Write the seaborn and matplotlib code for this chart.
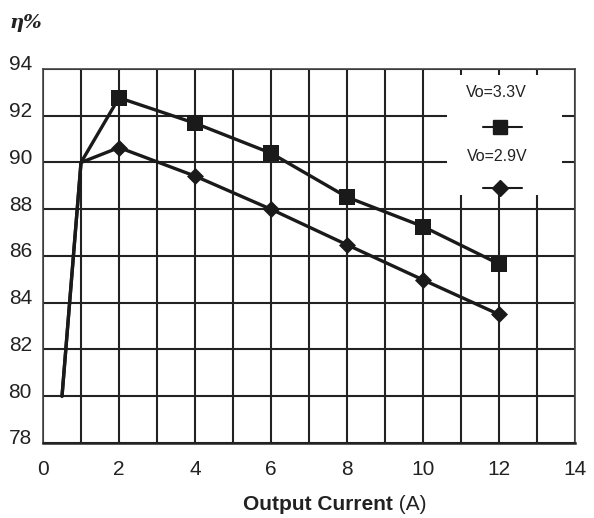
import matplotlib
matplotlib.use("Agg")
import matplotlib.pyplot as plt
import matplotlib.transforms as mtransforms
from matplotlib.lines import Line2D
from matplotlib.patches import Rectangle
import seaborn as sns
import pandas as pd

# ---- data ----
current = [0.5, 1, 2, 4, 6, 8, 10, 12]
eff_33 = [80.0, 90.0, 92.77, 91.68, 90.4, 88.52, 87.26, 85.66]
eff_29 = [80.0, 90.0, 90.64, 89.42, 88.0, 86.48, 84.98, 83.5]
series = ["Vo=3.3V", "Vo=2.9V"]
x_ticks = [0, 2, 4, 6, 8, 10, 12, 14]
y_ticks = [78, 80, 82, 84, 86, 88, 90, 92, 94]

df = pd.concat([
    pd.DataFrame({"I": current, "eff": eff_33, "Vo": series[0]}),
    pd.DataFrame({"I": current, "eff": eff_29, "Vo": series[1]}),
], ignore_index=True)
df_marks = df[df["I"] >= 2]

sns.set_theme(style="white")
plt.rcParams["font.family"] = ["Liberation Sans", "DejaVu Sans"]

fig = plt.figure(figsize=(5.94, 5.18), dpi=100)
ax = fig.add_axes([0.0724, 0.1448, 0.8956, 0.722])

dark = "#1a1a1a"
palette = {series[0]: dark, series[1]: dark}

sns.lineplot(data=df, x="I", y="eff", hue="Vo", palette=palette, sort=False,
             estimator=None, linewidth=2.4, legend=False, ax=ax, zorder=3)
sns.scatterplot(data=df_marks[df_marks["Vo"] == series[0]], x="I", y="eff",
                color=dark, marker="s", s=120, linewidth=0, legend=False, ax=ax, zorder=4)
sns.scatterplot(data=df_marks[df_marks["Vo"] == series[1]], x="I", y="eff",
                color=dark, marker="D", s=75, linewidth=0, legend=False, ax=ax, zorder=4)

ax.set_xlim(0, 14)
ax.set_ylim(78, 94)
ax.set_xticks(x_ticks)
ax.set_yticks(y_ticks)
ax.set_xticks(range(0, 15), minor=True)
ax.set_axisbelow(True)
ax.grid(which="major", axis="y", color="#222222", linewidth=1.5, zorder=0.5)
ax.grid(which="both", axis="x", color="#222222", linewidth=1.5, zorder=0.5)
ax.tick_params(axis="both", which="both", length=0, labelsize=15, colors="#222222")
ax.tick_params(axis="x", pad=12)
ax.tick_params(axis="y", pad=8)
for lab in ax.get_yticklabels():
    lab.set_transform(lab.get_transform() + mtransforms.ScaledTranslation(0, 6 / 100, fig.dpi_scale_trans))
for s in ax.spines.values():
    s.set_color("#444444")
    s.set_linewidth(1.2)
ax.spines["bottom"].set_color("#222222")
ax.spines["bottom"].set_linewidth(1.8)
ax.set_xlabel("")
ax.set_ylabel("")

# legend box (manual layout: label above handle)
ax.add_patch(Rectangle((0.759, 0.663), 0.217, 0.321, transform=ax.transAxes,
                       facecolor="white", edgecolor="none", zorder=1.5))
ax.text(0.853, 0.936, series[0], transform=ax.transAxes, ha="center", va="center",
        fontsize=11.5, color="#222222", zorder=5)
ax.text(0.853, 0.765, series[1], transform=ax.transAxes, ha="center", va="center",
        fontsize=11.5, color="#222222", zorder=5)
ax.add_line(Line2D([0.827, 0.900], [0.845, 0.845], transform=ax.transAxes, color=dark,
                   linewidth=1.5, zorder=5))
ax.add_line(Line2D([0.859], [0.845], transform=ax.transAxes, color=dark, marker="s",
                   markersize=10.5, linewidth=0, zorder=6))
ax.add_line(Line2D([0.827, 0.900], [0.682, 0.682], transform=ax.transAxes, color=dark,
                   linewidth=1.5, zorder=5))
ax.add_line(Line2D([0.859], [0.682], transform=ax.transAxes, color=dark, marker="D",
                   markersize=8, linewidth=0, zorder=6))

# y-axis unit label
fig.text(10 / 594, 1 - 23 / 518, "η%", fontsize=14, fontweight="bold", fontstyle="italic",
         ha="left", va="center", color="#222222", family=["DejaVu Serif"])

# x-axis label: bold part + normal part
ylab = 1 - 505 / 518
t1 = fig.text(0.0, ylab, "Output Current", fontsize=15, fontweight="bold",
              ha="left", va="center", color="#222222")
t2 = fig.text(0.0, ylab, " (A)", fontsize=15, ha="left", va="center", color="#222222")
fig.canvas.draw()
r = fig.canvas.get_renderer()
w1 = t1.get_window_extent(r).width
w2 = t2.get_window_extent(r).width
start = 335 - (w1 + w2) / 2
t1.set_x(start / 594)
t2.set_x((start + w1) / 594)

fig.savefig("out.png", dpi=100)
